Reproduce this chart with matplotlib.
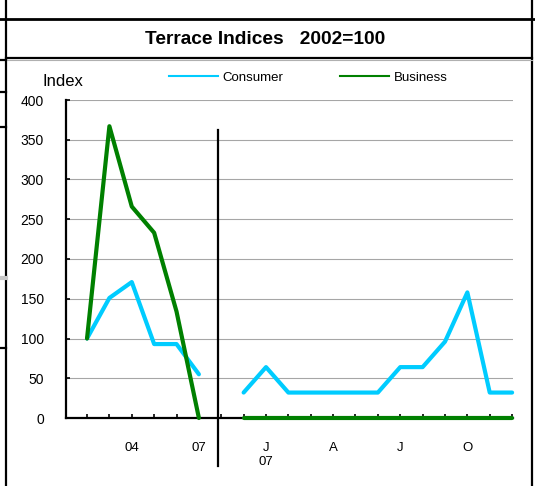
import numpy as np
import matplotlib
matplotlib.use('Agg')
import matplotlib.pyplot as plt
from matplotlib.lines import Line2D

plt.rcParams['font.family'] = ['Liberation Sans', 'DejaVu Sans']

# Datos: indices anuales (02-07) y mensuales (Dic 06 - Dic 07)
years = ['02', '03', '04', '05', '06', '07']
consumer_annual = [100, 151, 171, 93, 93, 55]
business_annual = [100, 367, 266, 233, 134, 0]

months = ['D', 'J', 'F', 'M', 'A', 'M', 'J', 'J', 'A', 'S', 'O', 'N', 'D']
consumer_monthly = [32, 64, 32, 32, 32, 32, 32, 64, 64, 96, 158, 32, 32]
business_monthly = [0, 0, 0, 0, 0, 0, 0, 0, 0, 0, 0, 0, 0]

x_labels = ['', '', '04', '', '', '07', '',
            '', 'J\n07', '', '', 'A', '', '', 'J', '', '', 'O', '', '']

yticks = [0, 50, 100, 150, 200, 250, 300, 350, 400]

W, H = 535, 486
fig = plt.figure(figsize=(W / 100, H / 100), dpi=100)

# Marco tipo tabla
def fline(x0, y0, x1, y1, lw, color='black'):
    fig.add_artist(Line2D([x0 / W, x1 / W], [1 - y0 / H, 1 - y1 / H],
                          transform=fig.transFigure, lw=lw, color=color))

fline(6, 0, 6, H, 1.6)
fline(532, 0, 532, H, 1.6)
fline(0, 19.5, W, 19.5, 2.0)
fline(6, 58.5, 532, 58.5, 1.6)
fline(6, 60.5, 532, 60.5, 0.8, '#b0b0b0')
fline(0, 60, 6, 60, 1.6)
fline(0, 92, 6, 92, 1.6)
fline(0, 127, 6, 127, 1.6)
fline(0, 278, 6, 278, 3.0, '#c8c8c8')
fline(0, 348, 6, 348, 1.6)

fig.text(265 / W, 1 - 39 / H, 'Terrace Indices   2002=100', fontsize=13.8,
         fontweight='bold', ha='center', va='center')

ax = fig.add_axes([66 / W, (H - 418) / H, (513 - 66) / W, 318 / H])

x_annual = np.arange(len(years))
x_monthly = np.arange(len(months)) + len(years) + 1

cyan = '#00ccff'
green = '#008000'
kw = dict(lw=3.0, solid_capstyle='round', solid_joinstyle='round', zorder=3, clip_on=False)
ax.plot(x_annual, consumer_annual, color=cyan, **kw)
ax.plot(x_annual, business_annual, color=green, **kw)
ax.plot(x_monthly, consumer_monthly, color=cyan, **kw)
ax.plot(x_monthly, business_monthly, color=green, **kw)

ax.set_xlim(-0.94, 19.04)
ax.set_ylim(0, 400)
ax.set_yticks(yticks)
ax.set_yticklabels([str(v) for v in yticks])
ax.set_xticks(np.arange(len(x_labels)))
ax.set_xticklabels(x_labels)

ax.grid(axis='y', color='#a6a6a6', lw=0.8)
ax.set_axisbelow(True)
for s in ['top', 'right']:
    ax.spines[s].set_visible(False)
for s in ['left', 'bottom']:
    ax.spines[s].set_linewidth(1.6)
    ax.spines[s].set_color('black')

ax.tick_params(axis='y', direction='in', length=3, width=1.2, pad=16, labelsize=10,
               colors='black')
ax.tick_params(axis='x', direction='in', length=3, width=1.2, pad=17, labelsize=9.5,
               colors='black')
for t in ax.get_xticklabels():
    t.set_linespacing(1.25)

# Divisor entre serie anual y mensual
ax.axvline(5.85, ymin=-0.151, ymax=0.906, color='black', lw=1.6, clip_on=False)

fig.text(42 / W, 1 - 82 / H, 'Index', fontsize=12, va='center', ha='left')

handles = [Line2D([], [], color=cyan, lw=1.5), Line2D([], [], color=green, lw=1.5)]
ax.legend(handles, ['Consumer', 'Business'], ncol=2, frameon=False, fontsize=9.5,
          loc='center left', bbox_to_anchor=(169 / W, 1 - 77.5 / H),
          bbox_transform=fig.transFigure, borderpad=0, borderaxespad=0,
          handlelength=3.7, handletextpad=0.35, columnspacing=4.3)

fig.savefig('out.png', dpi=100)
